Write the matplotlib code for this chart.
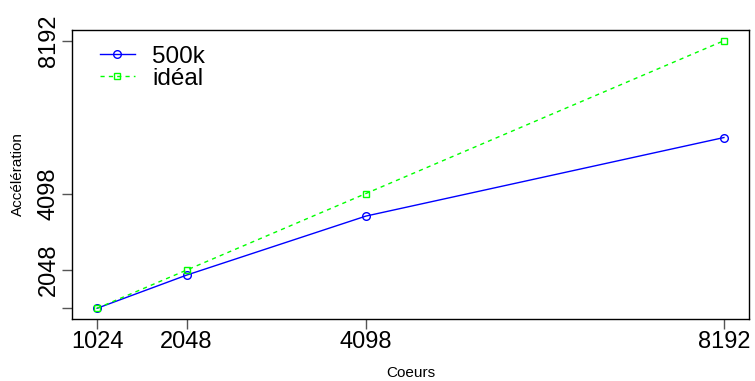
import numpy as np
import matplotlib.pyplot as plt

plt.rcParams['font.family'] = ['Liberation Sans', 'DejaVu Sans']

coeurs = [1024, 2048, 4098, 8192]
acc_500k = [1024, 1913, 3494, 5598]
acc_ideal = [1024, 2048, 4098, 8192]
ticks = [1024, 2048, 4098, 8192]
yticks_lab = ['', '2048', '4098', '8192']

fig = plt.figure(figsize=(7.55, 3.81), dpi=100)
ax = fig.add_axes([72/755, 62/381, 677/755, 289/381])

ax.plot(coeurs, acc_500k, color='blue', lw=1, marker='o', ms=5.5,
        mfc='none', mew=1, label='500k')
ax.plot(coeurs, acc_ideal, color='#00ff00', lw=1, ls=(0, (3, 3)), marker='s',
        ms=5, mfc='none', mew=1, label='idéal')

span = coeurs[-1] - coeurs[0]
ax.set_xlim(coeurs[0] - 0.04*span, coeurs[-1] + 0.04*span)
ax.set_ylim(acc_ideal[0] - 0.04*span, acc_ideal[-1] + 0.04*span)

ax.set_xticks(ticks)
ax.set_xticklabels([str(t) for t in ticks], fontsize=17)
ax.set_yticks(ticks)
ax.set_yticklabels(yticks_lab, fontsize=17, rotation=90, va='center')
ax.tick_params(length=7, width=1, color='#555555', pad=2)

ax.set_xlabel('Coeurs', fontsize=11, labelpad=9)
ax.set_ylabel('Accélération', fontsize=11, labelpad=9)

for s in ax.spines.values():
    s.set_linewidth(1)

ax.legend(loc='upper left', frameon=False, fontsize=17.5, handlelength=1.45,
          borderaxespad=0, borderpad=0, labelspacing=0.0, handletextpad=0.7,
          bbox_to_anchor=(0.041, 0.945))

fig.savefig('out.png', dpi=100)
